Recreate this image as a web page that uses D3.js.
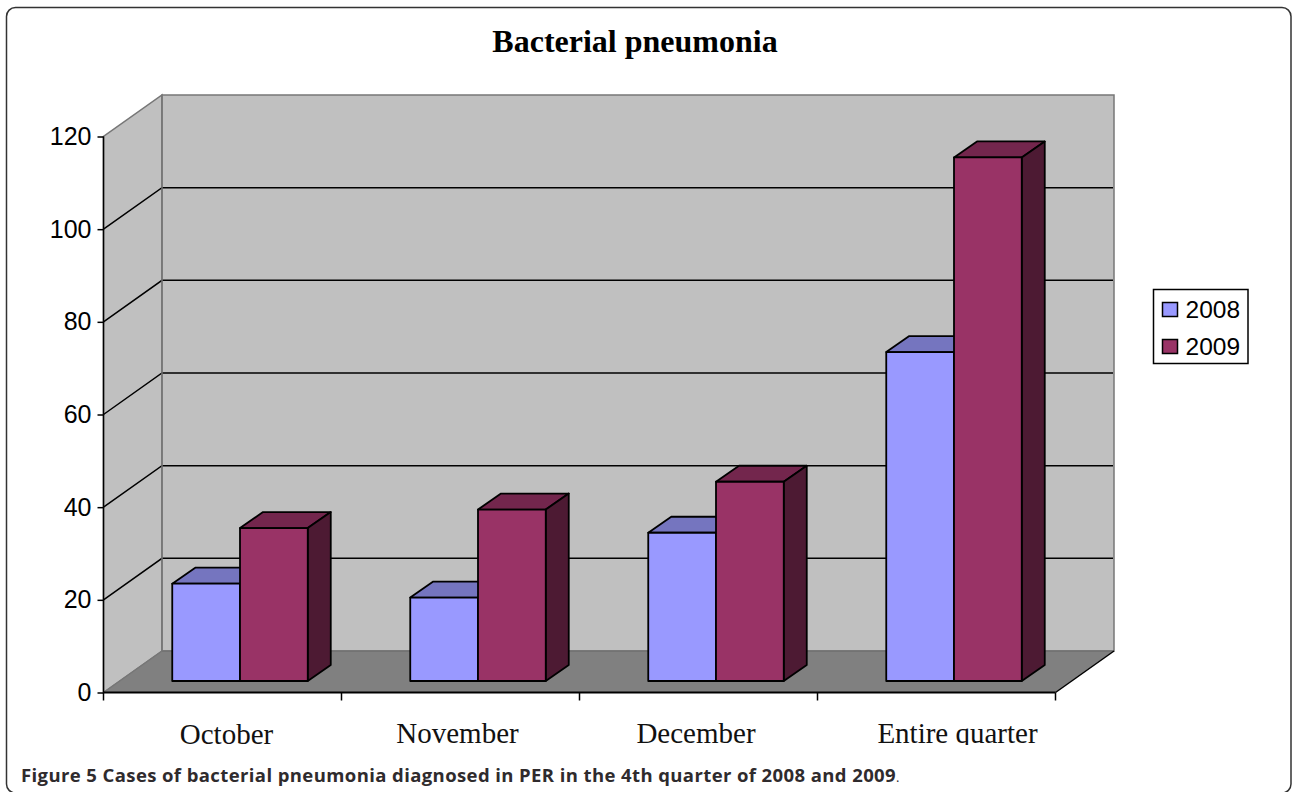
<!DOCTYPE html>
<html>
<head>
<meta charset="utf-8">
<script src="https://cdn.jsdelivr.net/npm/d3@7"></script>
<style>
    html, body { margin: 0; padding: 0; background: #fff; overflow: hidden; }
    svg { display: block; }
</style>
</head>
<body>
<div id="chart"></div>
<script>
// values
const categories = ['October', 'November', 'December', 'Entire quarter'];
const years = ['2008', '2009'];
const cases2008 = [21, 18, 32, 71];
const cases2009 = [33, 37, 43, 113];
const yTicks = [0, 20, 40, 60, 80, 100, 120];

const frontColors = ['#9999ff', '#993366'];
const topColors = ['#7575bf', '#73264d'];
const sideColors = ['#4d4d80', '#4d1a33'];

const seriesValues = [cases2008, cases2009];

const width = 1292, height = 792;
const svg = d3.select('#chart').append('svg')
    .attr('width', width)
    .attr('height', height);

// card round the figure, runs off the bottom of the image
svg.append('rect')
    .attr('x', 6.5).attr('y', 7.5)
    .attr('width', 1284.5).attr('height', 785.5)
    .attr('rx', 9)
    .attr('fill', '#fff')
    .attr('stroke', '#333')
    .attr('stroke-width', 1.5);

// scales for the front plane of the 3d box
const y = d3.scaleLinear().domain([0, 120]).range([692.5, 136.5]);
const x = d3.scaleBand().domain(categories).range([103.5, 1055.5]);
const barX = d3.scaleBand().domain(years).range([0, 135.5]);

// depth of the box, and how far in the bars stand
const depthX = 58.5, depthY = -41.5;
const barDepthX = 23, barDepthY = -16;
const barInX = 17.5, barInY = -11.5;
const barGap = (x.bandwidth() - barX.range()[1]) / 2;

const poly = pts => pts.map(p => p.join(',')).join(' ');
const wallGrey = '#c0c0c0', floorGrey = '#808080', edgeGrey = '#777';

// side wall
svg.append('polygon')
    .attr('points', poly([[x.range()[0], y(0)], [x.range()[0], y(120)],
        [x.range()[0] + depthX, y(120) + depthY], [x.range()[0] + depthX, y(0) + depthY]]))
    .attr('fill', wallGrey).attr('stroke', edgeGrey).attr('stroke-width', 1.5);

// back wall
svg.append('rect')
    .attr('x', x.range()[0] + depthX).attr('y', y(120) + depthY)
    .attr('width', x.range()[1] - x.range()[0])
    .attr('height', y(0) - y(120))
    .attr('fill', wallGrey).attr('stroke', edgeGrey).attr('stroke-width', 1.5);

// floor
svg.append('polygon')
    .attr('points', poly([[x.range()[0], y(0)], [x.range()[1], y(0)],
        [x.range()[1] + depthX, y(0) + depthY], [x.range()[0] + depthX, y(0) + depthY]]))
    .attr('fill', floorGrey).attr('stroke', 'none');
svg.append('line')
    .attr('x1', x.range()[0] + depthX).attr('x2', x.range()[1] + depthX)
    .attr('y1', y(0) + depthY).attr('y2', y(0) + depthY)
    .attr('stroke', '#666').attr('stroke-width', 1);
svg.append('line')
    .attr('x1', x.range()[1]).attr('x2', x.range()[1] + depthX)
    .attr('y1', y(0)).attr('y2', y(0) + depthY)
    .attr('stroke', '#000').attr('stroke-width', 1.5);
svg.append('line')
    .attr('x1', x.range()[0]).attr('x2', x.range()[0] + depthX)
    .attr('y1', y(0)).attr('y2', y(0) + depthY)
    .attr('stroke', edgeGrey).attr('stroke-width', 1.5);

// gridlines, along side wall then back wall
const grid = svg.append('g').attr('class', 'grid');
yTicks.filter(d => d > 0 && d < 120).forEach(d => {
    grid.append('polyline')
        .attr('points', poly([[x.range()[0], y(d)], [x.range()[0] + depthX, y(d) + depthY],
            [x.range()[1] + depthX - 1, y(d) + depthY]]))
        .attr('fill', 'none').attr('stroke', '#000').attr('stroke-width', 1.5);
});
// redraw wall corner above the grid lines
svg.append('line')
    .attr('x1', x.range()[0] + depthX).attr('x2', x.range()[0] + depthX)
    .attr('y1', y(120) + depthY).attr('y2', y(0) + depthY)
    .attr('stroke', edgeGrey).attr('stroke-width', 1.5);

// axes
const yAxis = d3.axisLeft(y).tickValues(yTicks).tickSize(6).tickPadding(6);
const yG = svg.append('g').call(yAxis).attr('transform', 'translate(103.5,0)');
yG.selectAll('.tick line').attr('stroke', '#000').attr('stroke-width', 1.5);
yG.select('.domain').attr('stroke', '#000').attr('stroke-width', 1.5).attr('d', `M0,${y(120)}V${y(0)}`);
yG.selectAll('text')
    .attr('font-family', '"Liberation Sans", Arial, sans-serif')
    .attr('font-size', 25)
    .attr('fill', '#000');

const xTickVals = categories.map(c => x(c)).concat(x.range()[1]);
const xTicks = svg.append('g');
xTicks.append('line')
    .attr('x1', x.range()[0]).attr('x2', x.range()[1])
    .attr('y1', y(0)).attr('y2', y(0))
    .attr('stroke', '#000').attr('stroke-width', 2);
xTicks.selectAll('line.tick').data(xTickVals).join('line')
    .attr('class', 'tick')
    .attr('x1', d => d).attr('x2', d => d)
    .attr('y1', y(0)).attr('y2', y(0) + 8)
    .attr('stroke', '#000').attr('stroke-width', 1.5);

// bars, one category at a time so the 2009 box overlaps the 2008 one
categories.forEach((cat, i) => {
    years.forEach((yr, s) => {
        const v = seriesValues[s][i];
        const left = x(cat) + barGap + barInX + barX(yr);
        const right = left + barX.bandwidth();
        const bottom = y(0) + barInY;
        const top = y(v) + barInY;
        const g = svg.append('g').attr('class', 'bar')
            .attr('stroke', '#000').attr('stroke-width', 1.8).attr('stroke-linejoin', 'round');
        g.append('polygon')
            .attr('points', poly([[left, top], [right, top],
                [right + barDepthX, top + barDepthY], [left + barDepthX, top + barDepthY]]))
            .attr('fill', topColors[s]);
        g.append('polygon')
            .attr('points', poly([[right, top], [right + barDepthX, top + barDepthY],
                [right + barDepthX, bottom + barDepthY], [right, bottom]]))
            .attr('fill', sideColors[s]);
        g.append('rect')
            .attr('x', left).attr('y', top)
            .attr('width', right - left).attr('height', bottom - top)
            .attr('fill', frontColors[s]);
    });
});

// category labels, the source image cuts them off at the bottom
svg.append('clipPath').attr('id', 'labelClip')
    .append('rect').attr('x', 100).attr('y', 700).attr('width', 1000).attr('height', 45);
const labelX = [226.5, 457.5, 696, 957.5];
const labelY = [744, 743, 743, 743];
svg.append('g').attr('clip-path', 'url(#labelClip)')
    .selectAll('text').data(categories).join('text')
    .attr('x', (d, i) => labelX[i])
    .attr('y', (d, i) => labelY[i])
    .attr('text-anchor', 'middle')
    .attr('font-family', '"Liberation Serif", "Times New Roman", serif')
    .attr('font-size', 29)
    .attr('fill', '#111')
    .text(d => d);

// title
svg.append('text')
    .attr('x', 635).attr('y', 52)
    .attr('text-anchor', 'middle')
    .attr('font-family', '"Liberation Serif", "Times New Roman", serif')
    .attr('font-weight', 'bold')
    .attr('font-size', 32)
    .attr('fill', '#000')
    .text('Bacterial pneumonia');

// legend
const legend = svg.append('g');
legend.append('rect')
    .attr('x', 1153.5).attr('y', 289.5)
    .attr('width', 94.5).attr('height', 74)
    .attr('fill', '#fff').attr('stroke', '#000').attr('stroke-width', 1.5);
const legendY = d3.scalePoint().domain(years).range([309.5, 346.5]);
years.forEach((yr, s) => {
    legend.append('rect')
        .attr('x', 1162.5).attr('y', legendY(yr) - 7)
        .attr('width', 15).attr('height', 14)
        .attr('fill', frontColors[s]).attr('stroke', '#000').attr('stroke-width', 1.5);
    legend.append('text')
        .attr('x', 1185.5).attr('y', legendY(yr) + 8)
        .attr('font-family', '"Liberation Sans", Arial, sans-serif')
        .attr('font-size', 24.5)
        .attr('fill', '#000')
        .text(yr);
});

// caption
const caption = svg.append('text')
    .attr('x', 21).attr('y', 782)
    .attr('font-family', '"Open Sans", "Noto Sans", sans-serif')
    .attr('font-size', 18.5)
    .attr('letter-spacing', 0.4)
    .attr('fill', '#2f2b2d');
caption.append('tspan').attr('font-weight', 'bold')
    .text('Figure 5 Cases of bacterial pneumonia diagnosed in PER in the 4th quarter of 2008 and 2009');
caption.append('tspan').attr('font-size', 13).text('.');
</script>
</body>
</html>
